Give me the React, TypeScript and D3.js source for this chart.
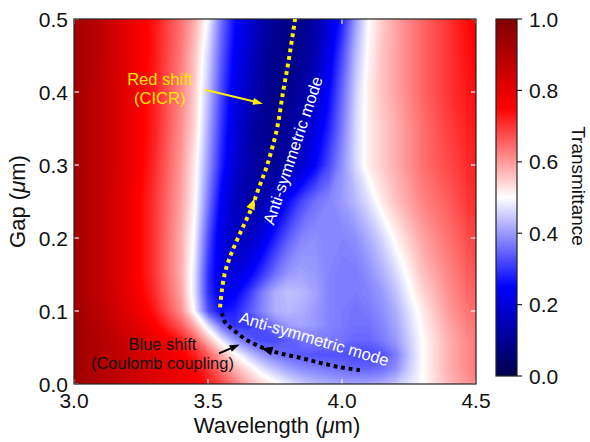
import React, { useEffect, useRef } from "react";
import * as d3 from "d3";

// grid axes (µm)
const wavelengths = [3.0, 3.1, 3.2, 3.3, 3.4, 3.45, 3.5, 3.55, 3.6, 3.65, 3.7, 3.75, 3.8, 3.85, 3.9, 3.95, 4.0, 4.05, 4.1, 4.15, 4.2, 4.25, 4.3, 4.4, 4.5];
const gaps = [0, 0.02, 0.04, 0.06, 0.08, 0.1, 0.125, 0.15, 0.2, 0.25, 0.3, 0.35, 0.4, 0.45, 0.5];

// transmittance, one row per gap
const tGap000 = [0.94, 0.9, 0.86, 0.82, 0.79, 0.77, 0.73, 0.68, 0.63, 0.58, 0.54, 0.51, 0.48, 0.45, 0.43, 0.42, 0.41, 0.41, 0.41, 0.42, 0.44, 0.47, 0.5, 0.57, 0.62];
const tGap002 = [0.94, 0.9, 0.86, 0.82, 0.78, 0.75, 0.7, 0.64, 0.58, 0.53, 0.48, 0.44, 0.41, 0.39, 0.38, 0.37, 0.36, 0.35, 0.35, 0.36, 0.39, 0.45, 0.5, 0.58, 0.63];
const tGap004 = [0.94, 0.9, 0.86, 0.81, 0.76, 0.72, 0.66, 0.58, 0.51, 0.45, 0.4, 0.37, 0.35, 0.34, 0.33, 0.33, 0.33, 0.32, 0.32, 0.33, 0.37, 0.44, 0.5, 0.58, 0.63];
const tGap006 = [0.94, 0.9, 0.85, 0.79, 0.72, 0.66, 0.57, 0.48, 0.4, 0.35, 0.32, 0.32, 0.34, 0.36, 0.37, 0.37, 0.36, 0.35, 0.35, 0.37, 0.4, 0.45, 0.5, 0.58, 0.63];
const tGap008 = [0.94, 0.89, 0.83, 0.76, 0.66, 0.58, 0.47, 0.36, 0.3, 0.3, 0.33, 0.37, 0.4, 0.41, 0.4, 0.38, 0.37, 0.36, 0.36, 0.38, 0.41, 0.46, 0.51, 0.59, 0.64];
const tGap010 = [0.94, 0.88, 0.81, 0.73, 0.61, 0.49, 0.33, 0.26, 0.28, 0.33, 0.38, 0.42, 0.43, 0.42, 0.4, 0.38, 0.37, 0.36, 0.37, 0.39, 0.42, 0.47, 0.52, 0.6, 0.65];
const tGap0125 = [0.93, 0.87, 0.8, 0.71, 0.59, 0.47, 0.3, 0.23, 0.24, 0.3, 0.37, 0.42, 0.44, 0.43, 0.41, 0.38, 0.37, 0.37, 0.38, 0.4, 0.44, 0.49, 0.54, 0.61, 0.66];
const tGap015 = [0.93, 0.87, 0.79, 0.7, 0.58, 0.47, 0.3, 0.21, 0.2, 0.24, 0.3, 0.36, 0.4, 0.41, 0.4, 0.38, 0.37, 0.37, 0.39, 0.42, 0.46, 0.51, 0.56, 0.62, 0.67];
const tGap020 = [0.93, 0.87, 0.79, 0.7, 0.58, 0.49, 0.33, 0.21, 0.16, 0.16, 0.21, 0.28, 0.34, 0.38, 0.39, 0.38, 0.38, 0.39, 0.42, 0.46, 0.51, 0.55, 0.59, 0.64, 0.69];
const tGap025 = [0.93, 0.87, 0.79, 0.7, 0.59, 0.51, 0.37, 0.24, 0.16, 0.13, 0.14, 0.19, 0.26, 0.32, 0.36, 0.38, 0.4, 0.43, 0.47, 0.52, 0.56, 0.59, 0.62, 0.66, 0.71];
const tGap030 = [0.93, 0.87, 0.8, 0.71, 0.6, 0.52, 0.4, 0.28, 0.19, 0.13, 0.1, 0.1, 0.13, 0.18, 0.25, 0.32, 0.39, 0.46, 0.52, 0.55, 0.58, 0.61, 0.64, 0.68, 0.72];
const tGap035 = [0.93, 0.87, 0.8, 0.72, 0.61, 0.54, 0.42, 0.3, 0.2, 0.14, 0.1, 0.09, 0.11, 0.15, 0.21, 0.28, 0.37, 0.46, 0.52, 0.55, 0.58, 0.61, 0.64, 0.69, 0.73];
const tGap040 = [0.93, 0.87, 0.8, 0.72, 0.62, 0.55, 0.44, 0.32, 0.22, 0.16, 0.11, 0.08, 0.09, 0.12, 0.17, 0.25, 0.35, 0.45, 0.52, 0.56, 0.59, 0.62, 0.65, 0.7, 0.74];
const tGap045 = [0.93, 0.88, 0.8, 0.73, 0.63, 0.56, 0.46, 0.34, 0.24, 0.18, 0.12, 0.09, 0.08, 0.1, 0.14, 0.22, 0.32, 0.43, 0.51, 0.56, 0.59, 0.62, 0.65, 0.7, 0.75];
const tGap050 = [0.93, 0.88, 0.8, 0.73, 0.64, 0.58, 0.49, 0.36, 0.26, 0.2, 0.14, 0.1, 0.08, 0.09, 0.12, 0.19, 0.28, 0.4, 0.5, 0.55, 0.59, 0.62, 0.65, 0.7, 0.76];

const xTicks = [3.0, 3.5, 4.0, 4.5];
const yTicks = [0, 0.1, 0.2, 0.3, 0.4, 0.5];
const cbTicks = [0, 0.2, 0.4, 0.6, 0.8, 1.0];

// dotted guide curves [wavelength, gap]
const redShiftCurve = [
  [3.545, 0.105], [3.552, 0.129], [3.563, 0.152], [3.582, 0.174], [3.608, 0.197],
  [3.638, 0.221], [3.664, 0.242], [3.687, 0.266], [3.72, 0.299], [3.757, 0.349],
  [3.78, 0.4], [3.80, 0.441], [3.825, 0.5],
];
const blueShiftCurve = [
  [4.067, 0.019], [3.993, 0.023], [3.918, 0.029], [3.843, 0.036], [3.769, 0.042],
  [3.724, 0.047], [3.683, 0.053], [3.646, 0.06], [3.608, 0.07], [3.582, 0.078],
  [3.563, 0.085], [3.552, 0.097],
];

const seismic = ["#00004d", "#0000ff", "#ffffff", "#ff0000", "#800000"];
const font = "'Liberation Sans', Arial, sans-serif";

const App = () => {
  const ref = useRef<SVGSVGElement>(null);

  useEffect(() => {
    const svg = d3.select(ref.current);
    svg.selectAll("*").remove();

    const x = d3.scaleLinear().domain([3.0, 4.5]).range([74, 476]);
    const y = d3.scaleLinear().domain([0, 0.5]).range([384, 19]);
    const color = d3.scaleLinear<string>().domain([0, 0.25, 0.5, 0.75, 1]).range(seismic);

    const rows = [tGap000, tGap002, tGap004, tGap006, tGap008, tGap010, tGap0125, tGap015,
      tGap020, tGap025, tGap030, tGap035, tGap040, tGap045, tGap050];
    const nx = wavelengths.length;
    const ny = gaps.length;
    const values = rows.flat();

    // grid index -> data units (non uniform grid)
    const ix = d3.scaleLinear().domain(d3.range(nx)).range(wavelengths).clamp(true);
    const iy = d3.scaleLinear().domain(d3.range(ny)).range(gaps).clamp(true);
    const proj = d3.geoTransform({
      point(px: number, py: number) {
        (this as any).stream.point(x(ix(px - 0.5)), y(iy(py - 0.5)));
      },
    });
    const path = d3.geoPath(proj);

    const step = 0.005;
    const thresholds = d3.range(0, 1, step);
    const contours = d3.contours().size([nx, ny]).thresholds(thresholds)(values);

    const defs = svg.append("defs");
    defs.append("clipPath").attr("id", "plotclip")
      .append("rect")
      .attr("x", x(3.0)).attr("y", y(0.5))
      .attr("width", x(4.5) - x(3.0)).attr("height", y(0) - y(0.5));

    const grad = defs.append("linearGradient").attr("id", "cbgrad")
      .attr("x1", 0).attr("y1", 1).attr("x2", 0).attr("y2", 0);
    d3.range(0, 1.0001, 0.05).forEach(t => {
      grad.append("stop").attr("offset", t).attr("stop-color", color(t));
    });

    const map = svg.append("g").attr("clip-path", "url(#plotclip)");
    map.selectAll("path.band")
      .data(contours)
      .join("path")
      .attr("class", "band")
      .attr("d", d => path(d as any))
      .attr("fill", d => color(Math.min(1, d.value + step / 2)));

    // frame + inward white ticks
    const axes = svg.append("g");
    yTicks.forEach(t => {
      axes.append("line").attr("x1", x(3.0)).attr("x2", x(3.0) + 5).attr("y1", y(t)).attr("y2", y(t))
        .attr("stroke", "#f4f4f4").attr("stroke-width", 1.2);
      axes.append("line").attr("x1", x(4.5)).attr("x2", x(4.5) - 5).attr("y1", y(t)).attr("y2", y(t))
        .attr("stroke", "#f4f4f4").attr("stroke-width", 1.2);
      axes.append("text").attr("x", x(3.0) - 6).attr("y", y(t)).attr("dy", "0.36em")
        .attr("text-anchor", "end").attr("font-family", font).attr("font-size", 21).attr("fill", "#111")
        .text(t.toFixed(1));
    });
    xTicks.forEach(t => {
      axes.append("line").attr("x1", x(t)).attr("x2", x(t)).attr("y1", y(0)).attr("y2", y(0) - 5)
        .attr("stroke", "#f4f4f4").attr("stroke-width", 1.2);
      axes.append("line").attr("x1", x(t)).attr("x2", x(t)).attr("y1", y(0.5)).attr("y2", y(0.5) + 5)
        .attr("stroke", "#f4f4f4").attr("stroke-width", 1.2);
      axes.append("text").attr("x", x(t)).attr("y", 408)
        .attr("text-anchor", "middle").attr("font-family", font).attr("font-size", 21).attr("fill", "#111")
        .text(t.toFixed(1));
    });
    axes.append("rect")
      .attr("x", x(3.0)).attr("y", y(0.5))
      .attr("width", x(4.5) - x(3.0)).attr("height", y(0) - y(0.5))
      .attr("fill", "none").attr("stroke", "#222").attr("stroke-width", 1.2);

    const xl = axes.append("text").attr("x", 277).attr("y", 433).attr("text-anchor", "middle")
      .attr("font-family", font).attr("font-size", 22).attr("fill", "#111");
    xl.append("tspan").text("Wavelength (");
    xl.append("tspan").attr("font-style", "italic").text("\u03bc");
    xl.append("tspan").text("m)");

    const yl = axes.append("text").attr("transform", `translate(25,${(y(0) + y(0.5)) / 2}) rotate(-90)`)
      .attr("text-anchor", "middle").attr("font-family", font).attr("font-size", 22).attr("fill", "#111");
    yl.append("tspan").text("Gap (");
    yl.append("tspan").attr("font-style", "italic").text("\u03bc");
    yl.append("tspan").text("m)");

    // guide curves
    const line = d3.line<number[]>().x(d => x(d[0])).y(d => y(d[1])).curve(d3.curveCatmullRom);
    const ann = svg.append("g").attr("clip-path", "url(#plotclip)");
    ann.append("path").attr("d", line(redShiftCurve)).attr("fill", "none")
      .attr("stroke", "#ffee00").attr("stroke-width", 4).attr("stroke-dasharray", "3.8 3.8");
    ann.append("path").attr("d", line(blueShiftCurve)).attr("fill", "none")
      .attr("stroke", "#000").attr("stroke-width", 4).attr("stroke-dasharray", "3.8 3.8");

    const head = (from: number[], to: number[], len: number, wid: number, fill: string, g = ann) => {
      const x0 = x(from[0]), y0 = y(from[1]), x1 = x(to[0]), y1 = y(to[1]);
      const dx = x1 - x0, dy = y1 - y0, L = Math.hypot(dx, dy);
      const ux = dx / L, uy = dy / L;
      const bx = x1 - ux * len, by = y1 - uy * len;
      g.append("path")
        .attr("d", `M${x1},${y1}L${bx - uy * wid / 2},${by + ux * wid / 2}L${bx + uy * wid / 2},${by - ux * wid / 2}Z`)
        .attr("fill", fill);
    };
    head(redShiftCurve[5], [3.674, 0.254], 11, 9, "#ffee00");
    head(blueShiftCurve[4], [3.700, 0.049], 11, 9, "#000");

    // callout arrows
    const callout = (from: number[], to: number[], stroke: string) => {
      const x0 = x(from[0]), y0 = y(from[1]), x1 = x(to[0]), y1 = y(to[1]);
      const L = Math.hypot(x1 - x0, y1 - y0);
      const k = (L - 8) / L;
      ann.append("line").attr("x1", x0).attr("y1", y0)
        .attr("x2", x0 + (x1 - x0) * k).attr("y2", y0 + (y1 - y0) * k)
        .attr("stroke", stroke).attr("stroke-width", 2);
      head(from, to, 10, 7, stroke);
    };
    callout([3.489, 0.403], [3.705, 0.384], "#ffee00");
    callout([3.541, 0.042], [3.618, 0.054], "#000");

    const label = (lines: string[], cx: number, cy: number, fill: string) => {
      lines.forEach((s, i) => {
        svg.append("text").attr("x", x(cx)).attr("y", y(cy) + i * 19)
          .attr("text-anchor", "middle").attr("font-family", font).attr("font-size", 16.5)
          .attr("fill", fill).text(s);
      });
    };
    label(["Red shift", "(CICR)"], 3.32, 0.41, "#ffe600");
    label(["Blue shift", "(Coulomb coupling)"], 3.33, 0.046, "#111");

    const rotLabel = (s: string, cx: number, cy: number, angle: number) => {
      svg.append("text")
        .attr("transform", `translate(${x(cx)},${y(cy)}) rotate(${angle})`)
        .attr("text-anchor", "middle").attr("dy", "0.35em")
        .attr("font-family", font).attr("font-size", 16.5).attr("fill", "#fff").text(s);
    };
    rotLabel("Anti-symmetric mode", 3.817, 0.32, -71.5);
    rotLabel("Anti-symmetric mode", 3.896, 0.062, 16.5);

    // colorbar
    const cb = d3.scaleLinear().domain([0, 1]).range([376, 19]);
    const cbx = 496, cbw = 21;
    const cbg = svg.append("g");
    cbg.append("rect").attr("x", cbx).attr("y", cb(1)).attr("width", cbw).attr("height", cb(0) - cb(1))
      .attr("fill", "url(#cbgrad)").attr("stroke", "#222").attr("stroke-width", 1.2);
    cbTicks.forEach(t => {
      cbg.append("line").attr("x1", cbx + cbw).attr("x2", cbx + cbw + 5).attr("y1", cb(t)).attr("y2", cb(t))
        .attr("stroke", "#222").attr("stroke-width", 1.2);
      cbg.append("text").attr("x", 529).attr("y", cb(t)).attr("dy", "0.36em")
        .attr("font-family", font).attr("font-size", 21).attr("fill", "#111").text(t.toFixed(1));
    });
    cbg.append("text").attr("transform", "translate(572,186) rotate(90)")
      .attr("text-anchor", "middle").attr("font-family", font).attr("font-size", 19).attr("fill", "#111")
      .text("Transmittance");
  }, []);

  return (
    <svg
      ref={ref}
      width={590}
      height={442}
      style={{ position: "absolute", left: 0, top: 0, background: "#fff" }}
    />
  );
};

export default App;
